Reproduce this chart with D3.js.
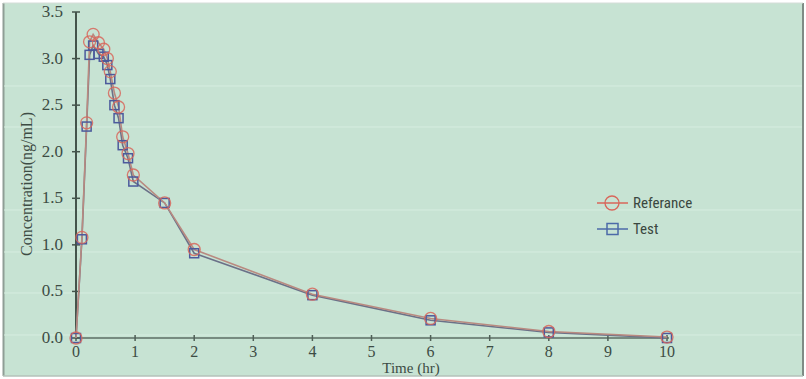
<!DOCTYPE html>
<html>
<head>
<meta charset="utf-8">
<script src="https://cdn.jsdelivr.net/npm/d3@7"></script>
<style>
  body { margin: 0; background: #fff; }
  svg { display: block; }
</style>
</head>
<body>
<div id="chart-area"></div>
<script>
// sampling times (hr)
let times = [0, 0.1, 0.18, 0.23, 0.29, 0.38, 0.47, 0.53, 0.58, 0.65, 0.72, 0.79, 0.88, 0.97, 1.5, 2, 4, 6, 8, 10];
// concentrations (ng/mL)
let reference = [0, 1.08, 2.31, 3.18, 3.26, 3.17, 3.1, 3.0, 2.86, 2.63, 2.48, 2.16, 1.98, 1.75, 1.45, 0.95, 0.47, 0.21, 0.07, 0.01];
let test = [0, 1.06, 2.27, 3.04, 3.14, 3.05, 3.02, 2.93, 2.78, 2.5, 2.36, 2.07, 1.93, 1.68, 1.45, 0.91, 0.46, 0.19, 0.06, 0.0];
let xTicks = [0, 1, 2, 3, 4, 5, 6, 7, 8, 9, 10];
let yTicks = [0, 0.5, 1.0, 1.5, 2.0, 2.5, 3.0, 3.5];
let seriesNames = ["Referance", "Test"];

let W = 806, H = 379;
let svg = d3.select('#chart-area')
            .append('svg')
            .attr('width', W)
            .attr('height', H);

// panel
svg.append('rect').attr('x', 3).attr('y', 3).attr('width', 800).attr('height', 373)
   .attr('fill', '#c7e3d3');
svg.append('line').attr('x1', 3.5).attr('x2', 3.5).attr('y1', 3).attr('y2', 376)
   .attr('stroke', '#8f9e96').attr('stroke-width', 2);
svg.append('line').attr('x1', 803).attr('x2', 803).attr('y1', 3).attr('y2', 376)
   .attr('stroke', '#7f8c85').attr('stroke-width', 2);
svg.append('line').attr('x1', 3).attr('x2', 803).attr('y1', 3).attr('y2', 3)
   .attr('stroke', '#d5ddd8').attr('stroke-width', 1);
svg.append('line').attr('x1', 3).attr('x2', 803).attr('y1', 376).attr('y2', 376)
   .attr('stroke', '#b4c2ba').attr('stroke-width', 1.5);

// faint scan streaks
[86, 127, 210, 252, 293, 335].forEach(function(yy){
    svg.append('line').attr('x1', 4).attr('x2', 802).attr('y1', yy).attr('y2', yy)
       .attr('stroke', '#d6ede0').attr('stroke-width', 1);
});

let x = d3.scaleLinear().domain([0, 10]).range([76, 667]);
let y = d3.scaleLinear().domain([0, 3.5]).range([338, 12]);

// x axis
svg.append('line').attr('x1', x(0)).attr('x2', x(10) + 2).attr('y1', y(0)).attr('y2', y(0))
   .attr('stroke', '#5d6e64').attr('stroke-width', 1.5);
svg.selectAll('.xtick').data(xTicks).enter().append('line')
   .attr('x1', d => x(d)).attr('x2', d => x(d))
   .attr('y1', y(0) - 3).attr('y2', y(0) + 3)
   .attr('stroke', '#4f5f56').attr('stroke-width', 1.5);
svg.selectAll('.xlab').data(xTicks).enter().append('text')
   .attr('x', d => x(d)).attr('y', y(0) + 19)
   .attr('text-anchor', 'middle')
   .attr('font-family', 'Liberation Serif, serif').attr('font-size', 16)
   .attr('fill', '#3d4c44')
   .text(d => d);

// y axis
svg.append('line').attr('x1', x(0)).attr('x2', x(0)).attr('y1', y(3.5)).attr('y2', y(0))
   .attr('stroke', '#44544b').attr('stroke-width', 2);
svg.selectAll('.ytick').data(yTicks).enter().append('line')
   .attr('x1', x(0) - 4).attr('x2', x(0) + 4)
   .attr('y1', d => y(d)).attr('y2', d => y(d))
   .attr('stroke', '#44544b').attr('stroke-width', 1.5);
svg.selectAll('.ylab').data(yTicks).enter().append('text')
   .attr('x', 63).attr('y', d => y(d) + 5)
   .attr('text-anchor', 'end')
   .attr('font-family', 'Liberation Serif, serif').attr('font-size', 17)
   .attr('fill', '#3d4c44')
   .text(d => d.toFixed(1));

// axis titles
svg.append('text').attr('x', 411).attr('y', 373).attr('text-anchor', 'middle')
   .attr('font-family', 'Liberation Serif, serif').attr('font-size', 15)
   .attr('fill', '#3d4c44').text('Time (hr)');
svg.append('text').attr('transform', 'translate(32,184) rotate(-90)').attr('text-anchor', 'middle')
   .attr('font-family', 'Liberation Serif, serif').attr('font-size', 16)
   .attr('fill', '#3d4c44').text('Concentration(ng/mL)');

let line = d3.line().x(d => x(d[0])).y(d => y(d[1]));
let refPts = times.map((t, i) => [t, reference[i]]);
let testPts = times.map((t, i) => [t, test[i]]);

svg.append('path').datum(testPts).attr('d', line)
   .attr('fill', 'none').attr('stroke', '#6b7188').attr('stroke-width', 1.6);
svg.append('path').datum(refPts).attr('d', line)
   .attr('fill', 'none').attr('stroke', '#b98a80').attr('stroke-width', 1.6);

svg.selectAll('.sq').data(testPts).enter().append('rect')
   .attr('x', d => x(d[0]) - 4.5).attr('y', d => y(d[1]) - 4.5)
   .attr('width', 9).attr('height', 9)
   .attr('fill', 'none').attr('stroke', '#4c5a9c').attr('stroke-width', 1.5);
svg.selectAll('.circ').data(refPts).enter().append('circle')
   .attr('cx', d => x(d[0])).attr('cy', d => y(d[1])).attr('r', 6)
   .attr('fill', 'none').attr('stroke', '#d8665a').attr('stroke-width', 1.3)
   .attr('stroke-opacity', 0.85);

// legend
let legY = [203, 229];
let legColors = ['#d8665a', '#4c6aa8'];
seriesNames.forEach(function(name, i){
    svg.append('line').attr('x1', 597).attr('x2', 628).attr('y1', legY[i]).attr('y2', legY[i])
       .attr('stroke', legColors[i]).attr('stroke-width', 1.5);
    if (i == 0) {
        svg.append('circle').attr('cx', 612).attr('cy', legY[i]).attr('r', 7)
           .attr('fill', 'none').attr('stroke', legColors[i]).attr('stroke-width', 1.3);
    } else {
        svg.append('rect').attr('x', 607).attr('y', legY[i] - 5.5).attr('width', 11).attr('height', 11)
           .attr('fill', 'none').attr('stroke', legColors[i]).attr('stroke-width', 1.5);
    }
    svg.append('text').attr('x', 633).attr('y', legY[i] + 5)
       .attr('font-family', 'Liberation Sans Narrow, Roboto Condensed, Arial Narrow, sans-serif')
       .attr('font-size', 15).attr('fill', '#3a4740')
       .text(name);
});
</script>
</body>
</html>
